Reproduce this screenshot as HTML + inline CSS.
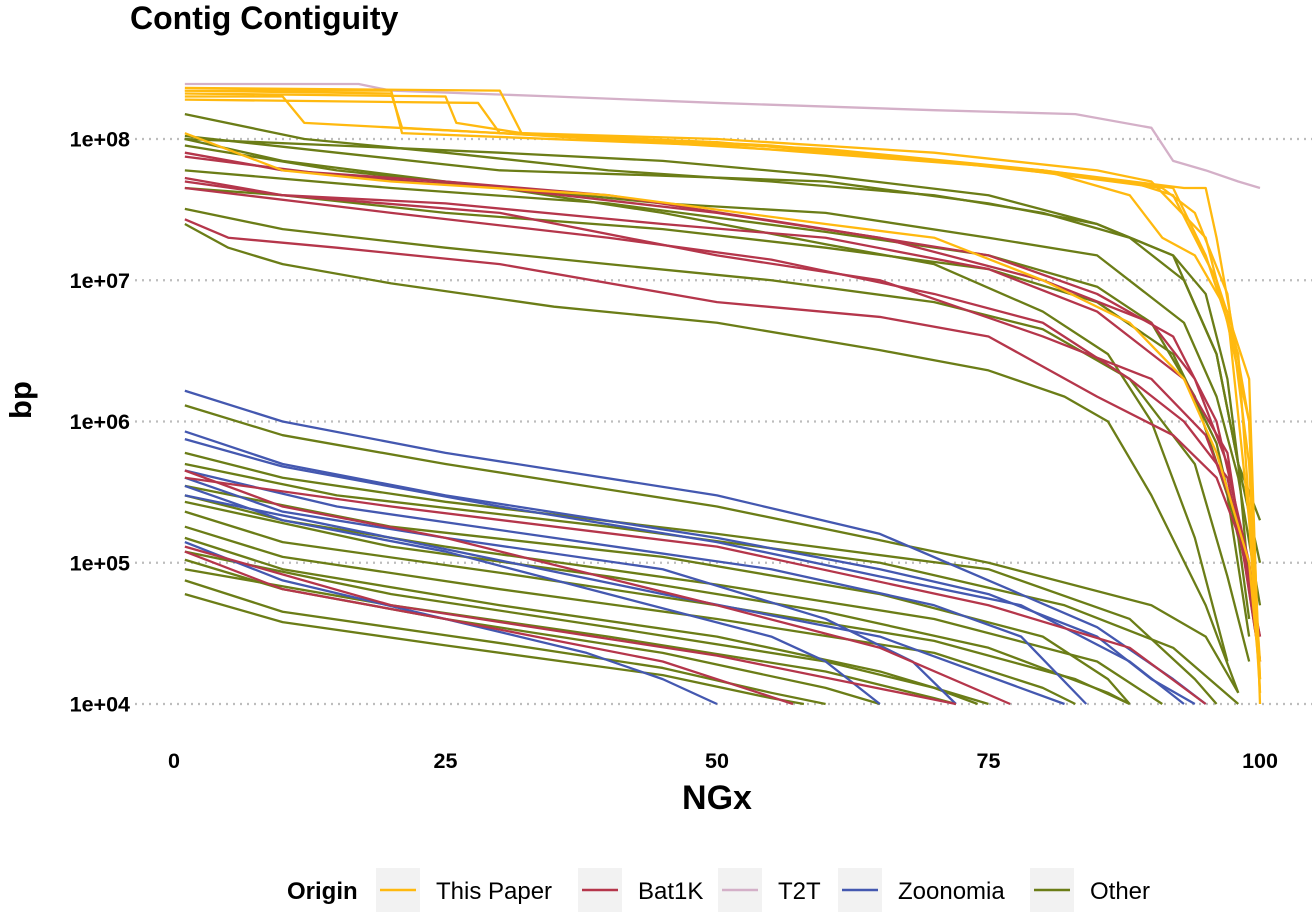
<!DOCTYPE html>
<html><head><meta charset="utf-8"><style>
html,body{margin:0;padding:0;background:#fff;}
svg{display:block;font-family:"Liberation Sans",Arial,sans-serif;}
</style></head><body>
<svg id="chart" width="1312" height="912" viewBox="0 0 1312 912">
<text x="130" y="29" font-size="32" font-weight="bold">Contig Contiguity</text>
<text transform="translate(31,400) rotate(-90)" text-anchor="middle" font-size="31" font-weight="bold">bp</text>
<text x="717" y="809" text-anchor="middle" font-size="34" font-weight="bold">NGx</text>
<g id="grid"></g><g id="lines"></g><g id="ticks"></g><g id="legend"></g>
</svg>
<script>
const xTicks=[0,25,50,75,100];
const yTicks=[1e4,1e5,1e6,1e7,1e8];
const yTickLabels=["1e+04","1e+05","1e+06","1e+07","1e+08"];
const origins=["This Paper","Bat1K","T2T","Zoonomia","Other"];
const colors={"This Paper":"#FFB90F","Bat1K":"#B5364B","T2T":"#D4B0C8","Zoonomia":"#4458B0","Other":"#6B7D17"};
const otherLines=[
[[1,1.5e8],[12,1e8],[25,8e7],[40,6e7],[55,5e7],[70,4e7],[80,3e7],[88,2e7],[93,1e7],[96,3e6],[98,5e5],[99,7e4]],
[[1,1.05e8],[15,8e7],[30,6e7],[45,5.5e7],[60,5e7],[75,3.5e7],[85,2.5e7],[92,1.5e7],[95,8e6],[97,2e6],[98,5e5],[100,2e5]],
[[1,1e8],[10,7e7],[25,5e7],[45,3.5e7],[60,3e7],[75,2e7],[85,1.5e7],[93,5e6],[96,1.5e6],[98,4e5],[100,5e4]],
[[1,4.5e7],[10,4e7],[25,3e7],[45,2.3e7],[60,1.7e7],[75,1.2e7],[85,7e6],[92,3e6],[96,7e5],[98,1.5e5],[99,4e4]],
[[1,3.2e7],[10,2.3e7],[25,1.7e7],[40,1.3e7],[55,1e7],[70,7e6],[80,4.5e6],[88,2e6],[94,5e5],[97,8e4],[99,2e4]],
[[1,2.5e7],[5,1.7e7],[10,1.3e7],[20,9.5e6],[35,6.5e6],[50,5e6],[65,3.2e6],[75,2.3e6],[82,1.5e6],[86,1e6],[90,3e5],[95,5e4],[98,1.2e4]],
[[1,1e8],[15,9e7],[30,8e7],[45,7e7],[60,5.5e7],[75,4e7],[85,2.5e7],[92,1.5e7],[96,3e6],[98,5e5],[100,1e5]],
[[1,6e7],[20,4.5e7],[40,3.5e7],[60,2.2e7],[75,1.5e7],[85,9e6],[90,5e6],[94,1.5e6],[97,3e5],[99,3e4]],
[[1,9e7],[15,6e7],[30,4.5e7],[45,3e7],[60,1.8e7],[70,1.3e7],[80,6e6],[86,3e6],[90,1e6],[94,1.5e5],[97,2e4]],
[[1,1.3e6],[10,8e5],[25,5e5],[50,2.5e5],[75,1e5],[90,5e4],[95,3e4],[98,1.2e4]],
[[1,6e5],[10,4e5],[25,2.7e5],[50,1.6e5],[75,9e4],[88,4e4],[94,1.5e4],[96,1e4]],
[[1,3e5],[10,2e5],[25,1.3e5],[50,7e4],[70,4e4],[85,2e4],[91,1e4]],
[[1,2.3e5],[10,1.4e5],[30,8.5e4],[50,5e4],[70,2.8e4],[83,1.5e4],[88,1e4]],
[[1,1.8e5],[10,1.1e5],[30,6.5e4],[50,4e4],[70,2.3e4],[80,1.3e4],[83,1e4]],
[[1,1.5e5],[10,9e4],[30,5e4],[50,3e4],[65,1.7e4],[75,1e4]],
[[1,1.05e5],[10,6.5e4],[25,4e4],[45,2.3e4],[60,1.3e4],[65,1e4]],
[[1,7.5e4],[10,4.5e4],[30,2.7e4],[45,1.8e4],[55,1.2e4],[60,1e4]],
[[1,6e4],[10,3.8e4],[25,2.6e4],[45,1.6e4],[55,1.1e4],[58,1e4]],
[[1,2.7e5],[20,1.3e5],[40,8e4],[60,4.5e4],[75,2.5e4],[86,1.2e4],[88,1e4]],
[[1,1.2e5],[20,6e4],[40,3.5e4],[60,2e4],[70,1.3e4],[74,1e4]],
[[1,9e4],[20,5e4],[40,3e4],[60,1.7e4],[70,1.1e4],[72,1e4]],
[[1,5e5],[15,3e5],[40,1.8e5],[65,1e5],[82,5e4],[92,2.5e4],[98,1e4]],
[[1,3.5e5],[20,1.8e5],[45,1.1e5],[65,6e4],[80,3e4],[86,1.5e4],[88,1e4]]
];
const zoonomiaLines=[
[[1,1.65e6],[10,1e6],[25,6e5],[50,3e5],[65,1.6e5],[75,7.5e4],[85,3.5e4],[92,1.5e4],[95,1e4]],
[[1,8.5e5],[10,5e5],[25,3e5],[50,1.5e5],[65,9e4],[75,6e4],[85,3e4],[90,1.5e4],[94,1e4]],
[[1,7.5e5],[10,4.8e5],[30,2.5e5],[50,1.4e5],[65,8e4],[78,5e4],[88,2e4],[93,1e4]],
[[1,4e5],[10,2.3e5],[25,1.5e5],[45,9e4],[60,4e4],[68,2e4],[72,1e4]],
[[1,3.5e5],[10,2e5],[25,1.2e5],[40,6e4],[55,3e4],[60,2e4],[65,1e4]],
[[1,4.5e5],[15,2.5e5],[35,1.5e5],[55,9e4],[70,5e4],[78,3e4],[84,1e4]],
[[1,1.4e5],[10,7.5e4],[25,4e4],[38,2.3e4],[45,1.5e4],[50,1e4]],
[[1,3e5],[20,1.5e5],[45,6e4],[65,3e4],[82,1e4]]
];
const bat1kLines=[
[[1,8e7],[10,6e7],[25,5e7],[40,4e7],[60,2.3e7],[75,1.5e7],[85,8e6],[92,4e6],[96,1e6],[99,1e5],[100,2e4]],
[[1,7.5e7],[15,5.5e7],[30,4.5e7],[50,3e7],[65,2e7],[80,1e7],[90,5e6],[94,2e6],[97,5e5],[100,3e4]],
[[1,5.3e7],[10,4e7],[25,3.5e7],[45,2.5e7],[60,2e7],[75,1.2e7],[85,6e6],[93,2e6],[97,6e5],[100,2e4]],
[[1,5e7],[10,4e7],[30,3e7],[50,1.5e7],[65,1e7],[80,4e6],[90,2e6],[95,8e5],[98,2e5],[100,2e4]],
[[1,2.7e7],[5,2e7],[15,1.7e7],[30,1.3e7],[50,7e6],[65,5.5e6],[75,4e6],[85,1.5e6],[92,8e5],[96,4e5],[99,1e5],[100,2e4]],
[[1,4.5e7],[20,3e7],[40,2e7],[55,1.4e7],[70,8e6],[80,5e6],[88,2e6],[93,1e6],[97,4e5],[100,3e4]],
[[1,4.5e5],[10,2.5e5],[25,1.5e5],[50,5e4],[65,2.5e4],[77,1e4]],
[[1,1.2e5],[10,6.5e4],[25,4e4],[45,2e4],[57,1e4]],
[[1,4e5],[20,2.5e5],[50,1.3e5],[75,5e4],[88,2.5e4],[95,1e4]],
[[1,1.3e5],[20,5e4],[50,2.2e4],[72,1e4]]
];
const t2tLines=[
[[1,2.45e8],[17,2.45e8],[20,2.2e8],[35,2e8],[50,1.8e8],[70,1.6e8],[83,1.5e8],[90,1.2e8],[92,7e7],[95,6e7],[98,5e7],[100,4.5e7]]
];
const thisPaperLines=[
[[1,2.3e8],[30,2.2e8],[32,1.1e8],[50,1e8],[70,8e7],[85,6e7],[90,5e7],[95,2e7],[97,5e6],[99,1e6],[100,1.2e4]],
[[1,2.2e8],[20,2.1e8],[21,1.2e8],[40,1e8],[60,8.5e7],[80,6e7],[92,4.5e7],[95,1.5e7],[98,3e6],[100,2e4]],
[[1,2.1e8],[25,2e8],[26,1.3e8],[32,1.1e8],[55,9e7],[75,6.5e7],[91,4.5e7],[94,3e7],[97,8e6],[99,5e5],[100,1.5e4]],
[[1,2e8],[10,2e8],[12,1.3e8],[30,1.1e8],[50,9.5e7],[70,7e7],[88,5e7],[92,4e7],[96,1e7],[99,2e6],[100,1e4]],
[[1,1.9e8],[28,1.8e8],[30,1.1e8],[60,8e7],[80,6e7],[93,4.5e7],[95,4.5e7],[96,2e7],[99,1e6],[100,1.5e4]],
[[1,1.1e8],[10,6e7],[20,5e7],[40,4e7],[60,2.5e7],[70,2e7],[80,1e7],[88,5e6],[93,2e6],[96,6e5],[99,1e5],[100,1.5e4]],
[[1,2.2e8],[20,2.2e8],[21,1.1e8],[50,9e7],[80,6e7],[88,4e7],[91,2e7],[94,1.5e7],[97,6e6],[99,2e5],[100,1.2e4]]
];
const NS="http://www.w3.org/2000/svg";
const xS=v=>174+v*10.86;
const yS=v=>139-(Math.log10(v)-8)*141.25;
const grid=document.getElementById('grid'),tk=document.getElementById('ticks'),lg=document.getElementById('lines'),leg=document.getElementById('legend');
function mk(tag,attrs,parent){const e=document.createElementNS(NS,tag);for(const k in attrs)e.setAttribute(k,attrs[k]);parent.appendChild(e);return e;}
yTicks.forEach((v,i)=>{
 const g=mk('line',{x1:135,x2:1312,y1:yS(v),y2:yS(v),stroke:'#bdbdbd','stroke-width':2.2,'stroke-dasharray':'2 5'},grid);
 
 
 const t=mk('text',{x:130,y:yS(v)+7.5,'text-anchor':'end','font-size':21.5,'font-weight':'bold'},tk);
 t.textContent=yTickLabels[i];
 
 
});
xTicks.forEach(v=>{
 const t=mk('text',{x:xS(v),y:768,'text-anchor':'middle','font-size':21.5,'font-weight':'bold'},tk);
 t.textContent=v;
 
 
});
function draw(set,origin,slug){
 set.forEach((pts,i)=>{
  const p=mk('polyline',{points:pts.map(q=>xS(q[0])+','+yS(q[1])).join(' '),fill:'none',stroke:colors[origin],'stroke-width':2.3,'stroke-linejoin':'round'},lg);
  
  
 });
}
draw(otherLines,'Other','other');
draw(zoonomiaLines,'Zoonomia','zoonomia');
draw(bat1kLines,'Bat1K','bat1k');
draw(t2tLines,'T2T','t2t');
draw(thisPaperLines,'This Paper','this-paper');
const lt=mk('text',{x:287,y:899,'font-size':24,'font-weight':'bold'},leg);
lt.textContent='Origin';


const keyX=[376,578,718,838,1030];
origins.forEach((o,i)=>{
 const b=mk('rect',{x:keyX[i],y:868,width:44,height:44,fill:'#f2f2f2'},leg);
 
 
 const l=mk('line',{x1:keyX[i]+4,x2:keyX[i]+40,y1:890,y2:890,stroke:colors[o],'stroke-width':2.5},leg);
 
 
 const t=mk('text',{x:keyX[i]+60,y:899,'font-size':24},leg);
 t.textContent=o;
 
 
});
</script>
</body></html>
